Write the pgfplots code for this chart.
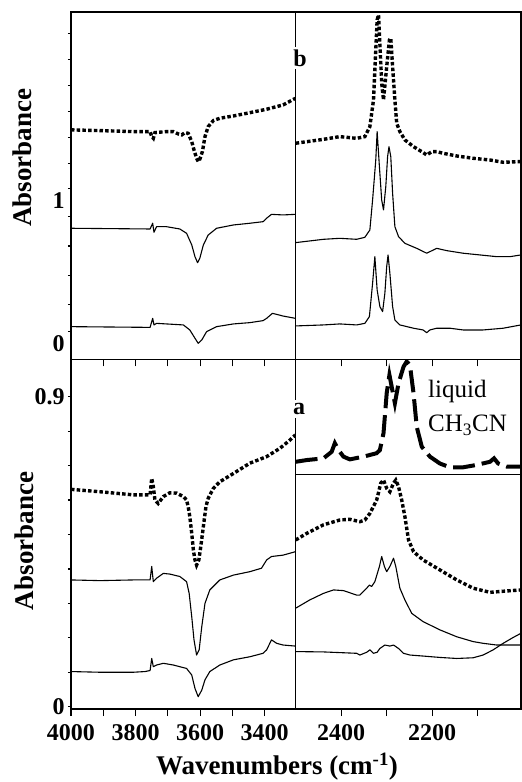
\documentclass[border=0pt]{standalone}
\usepackage{fontspec}
\setmainfont{Liberation Serif}
\usepackage{pgfplots}
\pgfplotsset{compat=1.18}
\pgfplotsset{
  panel/.style={
    scale only axis, anchor=south west, enlargelimits=false,
    x dir=reverse, tick align=outside, tick pos=left,
    axis line style={line width=1.3pt},
    every tick/.style={black, line width=1.2pt},
    xtick style={/pgfplots/major tick length=7pt},
    ytick style={/pgfplots/major tick length=3pt},
    tick label style={font=\fontsize{24}{24}\selectfont\bfseries, inner sep=0pt},
    xticklabel style={yshift=-11pt},
    yticklabel style={xshift=-2pt},
    no markers,
  },
  sol/.style={black, line width=1.1pt, line join=round},
  dots/.style={black, line width=3.4pt, dash pattern=on 3.5pt off 2.2pt, line join=miter},
  liq/.style={black, line width=4pt, dash pattern=on 22pt off 7pt},
}
\begin{document}
\begin{tikzpicture}[x=1pt,y=1pt]
\useasboundingbox (0,0) rectangle (522,782);
% ---------- top left ----------
\begin{axis}[panel, at={(71pt,422.5pt)}, width=224.7pt, height=347.5pt,
  xmin=3304, xmax=4000, ymin=-0.194, ymax=2.229,
  xtick={3400,3500,3600,3700,3800,3900,4000}, xticklabels={},
  ytick={0,0.191,0.391,0.598,0.802,1,1.174,1.356,1.534,1.715,1.895,2.081},
  yticklabels={0,,,,,1,,,,,,}, yticklabel style={yshift=-12pt}]
\addplot[dots] coordinates {(4000,1.407) (3910,1.402) (3807,1.395) (3755,1.395) (3750,1.360) (3745,1.348) (3740,1.388) (3704,1.395) (3683,1.395) (3668,1.379) (3657,1.372) (3647,1.388) (3637,1.383) (3626,1.325) (3619,1.267) (3611,1.209) (3606,1.186) (3601,1.202) (3593,1.255) (3585,1.360) (3575,1.430) (3559,1.472) (3539,1.488) (3497,1.504) (3446,1.527) (3394,1.551) (3343,1.581) (3305,1.627)};
\addplot[sol] coordinates {(4000,0.721) (3755,0.716) (3747,0.756) (3743,0.693) (3735,0.732) (3704,0.732) (3663,0.716) (3642,0.686) (3626,0.605) (3616,0.523) (3608,0.481) (3601,0.512) (3590,0.605) (3575,0.674) (3549,0.721) (3497,0.744) (3446,0.756) (3405,0.767) (3394,0.791) (3379,0.818) (3343,0.814) (3305,0.818)};
\addplot[sol] coordinates {(4000,0.035) (3755,0.030) (3747,0.093) (3743,0.047) (3735,0.058) (3652,0.047) (3632,0.012) (3616,-0.046) (3606,-0.081) (3595,-0.058) (3580,0.000) (3549,0.035) (3497,0.054) (3446,0.063) (3405,0.077) (3394,0.093) (3376,0.128) (3343,0.109) (3305,0.093)};
\end{axis}
% ---------- top right ----------
\begin{axis}[panel, at={(295.7pt,422.5pt)}, width=225.3pt, height=347.5pt,
  xmin=2004.8, xmax=2500, ymin=-0.194, ymax=2.229,
  xtick={2100,2200,2300,2400}, xticklabels={}, ytick=\empty]
\addplot[dots] coordinates {(2500,1.314) (2439,1.341) (2403,1.360) (2366,1.348) (2348,1.360) (2337,1.430) (2329,1.616) (2324,1.964) (2321,2.174) (2318,2.209) (2315,2.011) (2311,1.732) (2307,1.616) (2300,1.848) (2294,2.034) (2291,2.046) (2287,1.848) (2282,1.616) (2278,1.453) (2271,1.395) (2260,1.337) (2241,1.290) (2223,1.255) (2212,1.232) (2201,1.255) (2190,1.255) (2176,1.244) (2146,1.225) (2110,1.209) (2073,1.197) (2044,1.181) (2007,1.186)};
\addplot[sol] coordinates {(2500,0.621) (2439,0.644) (2403,0.651) (2366,0.644) (2348,0.658) (2337,0.709) (2331,0.918) (2324,1.197) (2321,1.395) (2316,1.151) (2311,0.918) (2307,0.849) (2302,1.011) (2298,1.221) (2295,1.290) (2291,1.221) (2287,0.965) (2282,0.732) (2274,0.663) (2260,0.616) (2234,0.581) (2212,0.547) (2205,0.558) (2190,0.581) (2168,0.565) (2132,0.547) (2095,0.535) (2058,0.523) (2029,0.523) (2005,0.535)};
\addplot[sol] coordinates {(2500,0.040) (2439,0.047) (2403,0.054) (2366,0.047) (2348,0.058) (2338,0.105) (2331,0.337) (2326,0.523) (2321,0.291) (2315,0.175) (2309,0.140) (2304,0.268) (2300,0.454) (2297,0.535) (2293,0.407) (2287,0.175) (2282,0.082) (2271,0.047) (2241,0.024) (2220,0.012) (2212,-0.007) (2205,0.012) (2190,0.024) (2161,0.024) (2132,0.012) (2088,0.012) (2044,0.024) (2005,0.047)};
\end{axis}
% ---------- bottom left ----------
\begin{axis}[panel, at={(71pt,73pt)}, width=224.7pt, height=349.5pt,
  xmin=3304, xmax=4000, ymin=-0.0067, ymax=1.008,
  xtick={3400,3500,3600,3700,3800,3900,4000}, xticklabels={3400,,3600,,3800,,4000},
  ytick={0,0.1,0.2,0.3,0.4,0.5,0.6,0.7,0.8,0.9}, yticklabels={0,,,,,,,,,0.9}]
\addplot[dots] coordinates {(4000,0.631) (3910,0.624) (3807,0.615) (3755,0.615) (3750,0.663) (3745,0.639) (3740,0.600) (3730,0.590) (3714,0.610) (3694,0.621) (3673,0.620) (3652,0.610) (3642,0.600) (3637,0.581) (3632,0.552) (3626,0.503) (3621,0.455) (3616,0.426) (3611,0.411) (3604,0.426) (3598,0.465) (3590,0.523) (3582,0.581) (3575,0.605) (3559,0.634) (3539,0.653) (3497,0.677) (3446,0.707) (3394,0.726) (3353,0.750) (3322,0.774) (3305,0.789)};
\addplot[sol] coordinates {(4000,0.368) (3910,0.366) (3807,0.368) (3755,0.368) (3750,0.407) (3745,0.363) (3735,0.373) (3714,0.387) (3694,0.385) (3663,0.378) (3642,0.363) (3634,0.329) (3626,0.261) (3619,0.194) (3611,0.150) (3603,0.165) (3595,0.232) (3585,0.300) (3570,0.339) (3539,0.368) (3497,0.382) (3446,0.392) (3410,0.402) (3394,0.426) (3379,0.436) (3343,0.440) (3305,0.450)};
\addplot[sol] coordinates {(4000,0.102) (3910,0.100) (3807,0.100) (3771,0.102) (3755,0.105) (3750,0.140) (3745,0.116) (3735,0.121) (3714,0.126) (3683,0.121) (3642,0.111) (3626,0.092) (3616,0.053) (3606,0.029) (3595,0.048) (3585,0.078) (3570,0.102) (3539,0.121) (3497,0.136) (3446,0.145) (3405,0.155) (3394,0.165) (3379,0.194) (3363,0.184) (3343,0.179) (3305,0.176)};
\end{axis}
% ---------- bottom right ----------
\begin{axis}[panel, at={(295.7pt,73pt)}, width=225.3pt, height=349.5pt,
  xmin=2004.8, xmax=2500, ymin=-0.0067, ymax=1.008,
  xtick={2100,2200,2300,2400}, xticklabels={,2200,,2400}, ytick=\empty]
\addplot[liq] coordinates {(2500,0.711) (2476,0.716) (2439,0.721) (2421,0.740) (2414,0.765) (2406,0.745) (2395,0.726) (2381,0.718) (2351,0.726) (2322,0.736) (2315,0.745) (2307,0.794) (2300,0.910) (2294,0.963) (2289,0.929) (2282,0.881) (2274,0.939) (2263,0.987) (2256,1.002) (2249,0.992) (2241,0.910) (2234,0.813) (2223,0.755) (2205,0.726) (2183,0.706) (2161,0.695) (2132,0.695) (2102,0.702) (2073,0.711) (2064,0.721) (2055,0.706) (2036,0.697) (2005,0.697)};
\addplot[black, line width=1.2pt] coordinates {(2500,0.675) (2004.8,0.675)};
\addplot[dots] coordinates {(2500,0.484) (2476,0.503) (2439,0.528) (2403,0.542) (2381,0.544) (2359,0.537) (2348,0.542) (2337,0.561) (2322,0.600) (2313,0.649) (2307,0.658) (2300,0.634) (2293,0.624) (2285,0.649) (2280,0.658) (2274,0.639) (2267,0.600) (2260,0.552) (2252,0.484) (2241,0.450) (2220,0.426) (2183,0.397) (2146,0.368) (2110,0.344) (2073,0.332) (2036,0.336) (2005,0.339)};
\addplot[sol] coordinates {(2500,0.286) (2469,0.310) (2439,0.329) (2417,0.339) (2395,0.337) (2366,0.324) (2359,0.324) (2344,0.344) (2338,0.353) (2333,0.349) (2326,0.363) (2316,0.407) (2311,0.436) (2305,0.407) (2300,0.392) (2293,0.407) (2285,0.431) (2280,0.407) (2271,0.344) (2260,0.310) (2245,0.271) (2220,0.247) (2183,0.223) (2146,0.203) (2110,0.189) (2088,0.184) (2058,0.179) (2005,0.179)};
\addplot[sol] coordinates {(2500,0.160) (2439,0.159) (2366,0.155) (2359,0.150) (2344,0.158) (2337,0.165) (2329,0.155) (2321,0.158) (2315,0.169) (2304,0.179) (2293,0.176) (2285,0.179) (2274,0.169) (2263,0.155) (2249,0.150) (2220,0.147) (2183,0.143) (2146,0.140) (2110,0.142) (2088,0.150) (2066,0.165) (2044,0.184) (2022,0.201) (2005,0.213)};
\end{axis}
% ---------- labels ----------
\node[rotate=90, font=\fontsize{27}{27}\selectfont\bfseries] at (22,624) {Absorbance};
\node[rotate=90, font=\fontsize{27}{27}\selectfont\bfseries] at (24,241) {Absorbance};
\node[font=\fontsize{27}{27}\selectfont\bfseries] at (277,15) {Wavenumbers (cm\textsuperscript{-1})};
\node[fill=white, inner sep=3pt, font=\fontsize{24}{24}\selectfont\bfseries] at (300,724) {b};
\node[fill=white, inner sep=3pt, font=\fontsize{24}{24}\selectfont\bfseries] at (299,373) {a};
\node[anchor=base west, inner sep=0pt, font=\fontsize{25}{25}\selectfont] at (428,384.3) {liquid};
\node[anchor=base west, inner sep=0pt, font=\fontsize{25}{25}\selectfont] at (428,350.3) {CH\textsubscript{3}CN};
\end{tikzpicture}
\end{document}
